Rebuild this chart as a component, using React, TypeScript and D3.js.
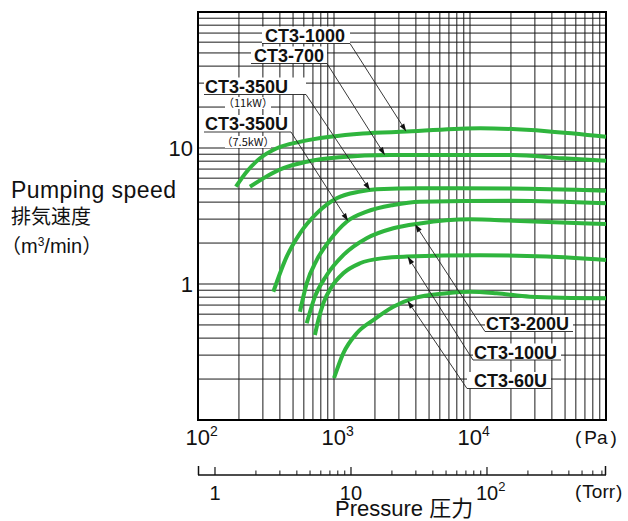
import React from 'react';
import * as d3 from 'd3';

// ---- data (pressure in Pa, pumping speed in m3/min) ----
const seriesNames = ['CT3-1000', 'CT3-700', 'CT3-350U', 'CT3-350U', 'CT3-200U', 'CT3-100U', 'CT3-60U'];
const seriesSubs = ['', '', '（11kW）', '（7.5kW）', '', '', ''];

const pCT3_1000 = [190, 228, 286, 380, 560, 935, 1630, 3430, 11900, 36600, 100000];
const sCT3_1000 = [5.2, 6.7, 8.4, 9.95, 11.1, 12.1, 12.8, 13.2, 14.0, 13.3, 12.1];

const pCT3_700 = [241, 302, 424, 630, 1107, 2580, 6750, 20700, 48300, 100000];
const sCT3_700 = [5.19, 5.98, 7.1, 7.93, 8.55, 8.89, 8.9, 8.89, 8.39, 8.07];

const pCT3_350U_11 = [358, 449, 562, 746, 1047, 1552, 2061, 4285, 20000, 100000];
const sCT3_350U_11 = [0.877, 1.59, 2.36, 3.31, 4.27, 4.78, 4.97, 5.06, 5.04, 4.85];

const pCT3_350U_75 = [562, 630, 746, 935, 1240, 1738, 2729, 4285, 20700, 100000];
const sCT3_350U_75 = [0.625, 1.01, 1.5, 2.11, 2.87, 3.4, 3.81, 4.03, 4.1, 3.92];

const pCT3_200U = [630, 724, 883, 1170, 1738, 2729, 4285, 10000, 20700, 100000];
const sCT3_200U = [0.514, 0.807, 1.16, 1.63, 2.17, 2.57, 2.79, 2.99, 2.92, 2.76];

const pCT3_100U = [724, 767, 834, 961, 1170, 1552, 2307, 3430, 11860, 36640, 100000];
const sCT3_100U = [0.422, 0.543, 0.721, 0.955, 1.2, 1.42, 1.55, 1.59, 1.63, 1.59, 1.5];

const pCT3_60U = [1000, 1170, 1469, 1945, 2729, 3828, 6745, 10000, 15700, 27600, 100000];
const sCT3_60U = [0.203, 0.309, 0.434, 0.543, 0.681, 0.785, 0.855, 0.877, 0.855, 0.807, 0.785];

const seriesP = [pCT3_1000, pCT3_700, pCT3_350U_11, pCT3_350U_75, pCT3_200U, pCT3_100U, pCT3_60U];
const seriesS = [sCT3_1000, sCT3_700, sCT3_350U_11, sCT3_350U_75, sCT3_200U, sCT3_100U, sCT3_60U];
// pressure (Pa) where each label's arrow touches its curve
const arrowPressure = [3400, 2370, 1840, 1270, 3950, 3480, 3470];

const yTickValues = [1, 10];
const yTickLabels = ['1', '10'];
const paTickValues = [100, 1000, 10000];
const paTickExp = ['2', '3', '4'];
const torrTickValues = [1, 10, 100];
const torrTickBase = ['1', '10', '10'];
const torrTickExp = ['', '', '2'];
const PA_PER_TORR = 133.322;

// ---- layout ----
const W = 628, H = 521;
const L = 198, R = 606, T = 12, B = 420;
const GREEN = '#2fb53d';
const LATIN = "'Liberation Sans', Arial, Helvetica, sans-serif";
const CJK = "'Noto Sans CJK JP', 'Noto Sans', sans-serif";

const labelLayout = [
  { tx: 265, ty: 41.5, u1: 262, u2: 350, uy: 43.5, lx: 350 },
  { tx: 254, ty: 61.5, u1: 251, u2: 327, uy: 63.5, lx: 327 },
  { tx: 205, ty: 92.5, u1: 204, u2: 306, uy: 94.5, lx: 306, sx: 248, sy: 107 },
  { tx: 205, ty: 130, u1: 204, u2: 291, uy: 132, lx: 291, sx: 248, sy: 146 },
  { tx: 486, ty: 330, u1: 485, u2: 573, uy: 331.5, lx: 485 },
  { tx: 474, ty: 358.5, u1: 473, u2: 561, uy: 360, lx: 473 },
  { tx: 474, ty: 387, u1: 467, u2: 551, uy: 388.5, lx: 467 },
];

function interpLogLog(ps: number[], ss: number[], p: number) {
  const lp = Math.log10(p);
  for (let i = 0; i < ps.length - 1; i++) {
    const a = Math.log10(ps[i]), b = Math.log10(ps[i + 1]);
    if (lp >= a && lp <= b) {
      const t = (lp - a) / (b - a);
      return Math.pow(10, Math.log10(ss[i]) + t * (Math.log10(ss[i + 1]) - Math.log10(ss[i])));
    }
  }
  return ss[ss.length - 1];
}

export default function App() {
  const x = d3.scaleLog().domain([1e2, 1e5]).range([L, R]);
  const y = d3.scaleLog().domain([0.1, 100]).range([B, T]);
  const torr = d3.scaleLog().domain([1e2 / PA_PER_TORR, 1e5 / PA_PER_TORR]).range([L, R]);

  const vGrid: number[] = [];
  [100, 1000, 10000].forEach((d) => { for (let k = 1; k <= 9; k++) vGrid.push(k * d); });
  vGrid.push(100000);
  const hGrid: number[] = [];
  [0.1, 1, 10].forEach((d) => { for (let k = 1; k <= 9; k++) hGrid.push(k * d); });
  hGrid.push(100);

  const torrMinor: number[] = [];
  [1, 10, 100].forEach((d) => { for (let k = 2; k <= 9; k++) if (k * d < 1e5 / PA_PER_TORR) torrMinor.push(k * d); });

  const line = d3.line<[number, number]>()
    .x((d) => x(d[0]))
    .y((d) => y(d[1]))
    .curve(d3.curveMonotoneX);

  const axisY = 475;

  return (
    <svg width={W} height={H} style={{ position: 'absolute', left: 0, top: 0, background: '#fff' }}>
      <rect x={0} y={0} width={W} height={H} fill="#fff" />
      {/* grid */}
      <g stroke="#1a1a1a" strokeWidth={1}>
        {vGrid.map((v, i) => (
          <line key={'v' + i} x1={x(v)} x2={x(v)} y1={T} y2={B} />
        ))}
        {hGrid.map((v, i) => (
          <line key={'h' + i} x1={L} x2={R} y1={y(v)} y2={y(v)} />
        ))}
      </g>
      <rect x={L} y={T} width={R - L} height={B - T} fill="none" stroke="#000" strokeWidth={2} />

      {/* curves */}
      <g fill="none" stroke={GREEN} strokeWidth={4} strokeLinecap="butt">
        {seriesP.map((ps, i) => (
          <path key={'c' + i} d={line(ps.map((p, j) => [p, seriesS[i][j]] as [number, number])) || ''} />
        ))}
      </g>

      {/* labels with leaders */}
      {seriesNames.map((name, i) => {
        const lay = labelLayout[i];
        const tipX = x(arrowPressure[i]);
        const tipY = y(interpLogLog(seriesP[i], seriesS[i], arrowPressure[i]));
        const ang = Math.atan2(tipY - lay.uy, tipX - lay.lx);
        const len = 8, hw = 2.6;
        const bx = tipX - len * Math.cos(ang), by = tipY - len * Math.sin(ang);
        const p1 = [bx + hw * Math.sin(ang), by - hw * Math.cos(ang)];
        const p2 = [bx - hw * Math.sin(ang), by + hw * Math.cos(ang)];
        return (
          <g key={'l' + i}>
            <rect x={lay.u1} y={lay.ty - 15} width={lay.u2 - lay.u1} height={lay.uy - lay.ty + 15} fill="#fff" />
            {lay.sx !== undefined && (
              <rect x={lay.sx - 23} y={lay.sy - 10} width={46} height={12} fill="#fff" />
            )}
            <text x={lay.tx} y={lay.ty} fontFamily={LATIN} fontWeight="bold" fontSize={18} fill="#111">{name}</text>
            {lay.sx !== undefined && (
              <text x={lay.sx} y={lay.sy} fontFamily={CJK} fontSize={11} textAnchor="middle" fill="#111">{seriesSubs[i]}</text>
            )}
            <line x1={lay.u1} x2={lay.u2} y1={lay.uy} y2={lay.uy} stroke="#222" strokeWidth={0.9} />
            <line x1={lay.lx} y1={lay.uy} x2={bx} y2={by} stroke="#222" strokeWidth={0.9} />
            <polygon points={`${tipX},${tipY} ${p1[0]},${p1[1]} ${p2[0]},${p2[1]}`} fill="#111" />
          </g>
        );
      })}

      {/* y tick labels */}
      {yTickValues.map((v, i) => (
        <text key={'yt' + i} x={193} y={y(v) + 8} textAnchor="end" fontFamily={LATIN} fontSize={22} fill="#111">{yTickLabels[i]}</text>
      ))}

      {/* y title */}
      <text x={11} y={198} fontFamily={LATIN} fontSize={23} textLength={165} lengthAdjust="spacing" fill="#111">Pumping speed</text>
      <text x={11} y={224} fontFamily={CJK} fontSize={20} fill="#111">排気速度</text>
      <text x={1} y={253} fontFamily={CJK} fontSize={20} fill="#111">
        <tspan>（</tspan>
        <tspan fontFamily={LATIN}>m</tspan>
        <tspan fontFamily={LATIN} fontSize={12} dy={-7}>3</tspan>
        <tspan fontFamily={LATIN} dy={7}>/min</tspan>
        <tspan>）</tspan>
      </text>

      {/* Pa tick labels */}
      {paTickValues.map((v, i) => (
        <text key={'pa' + i} x={x(v) - 12.5} y={445} fontFamily={LATIN} fontSize={22} fill="#111">
          10<tspan fontSize={14} dy={-9}>{paTickExp[i]}</tspan>
        </text>
      ))}
      <text x={575} y={444} fontFamily={LATIN} fontSize={19} fill="#111">
        <tspan>(</tspan><tspan dx={3}>Pa</tspan><tspan dx={3}>)</tspan>
      </text>

      {/* Torr axis */}
      <g stroke="#111">
        <line x1={L} x2={R} y1={axisY} y2={axisY} strokeWidth={1.5} />
        <line x1={L + 0.5} x2={L + 0.5} y1={axisY - 9} y2={axisY} strokeWidth={1.5} />
        <line x1={R - 0.5} x2={R - 0.5} y1={axisY - 9} y2={axisY} strokeWidth={1.5} />
        {torrTickValues.map((v, i) => (
          <line key={'tM' + i} x1={torr(v)} x2={torr(v)} y1={axisY - 8} y2={axisY} strokeWidth={1.2} />
        ))}
        {torrMinor.map((v, i) => (
          <line key={'tm' + i} x1={torr(v)} x2={torr(v)} y1={axisY - 4.5} y2={axisY} strokeWidth={1} />
        ))}
      </g>
      {torrTickValues.map((v, i) => (
        <text key={'tt' + i} x={torrTickExp[i] ? torr(v) - 11 : torr(v)} y={500}
          textAnchor={torrTickExp[i] ? 'start' : 'middle'} fontFamily={LATIN} fontSize={20} fill="#111">
          {torrTickBase[i]}
          {torrTickExp[i] && <tspan fontSize={13} dy={-9}>{torrTickExp[i]}</tspan>}
        </text>
      ))}
      <text x={575} y={498} fontFamily={LATIN} fontSize={19} fill="#111">
        <tspan>(</tspan><tspan dx={1}>Torr</tspan><tspan dx={1}>)</tspan>
      </text>

      {/* x title */}
      <text x={335} y={516} fontFamily={LATIN} fontSize={22} fill="#111">
        Pressure <tspan fontFamily={CJK}>圧力</tspan>
      </text>
    </svg>
  );
}
